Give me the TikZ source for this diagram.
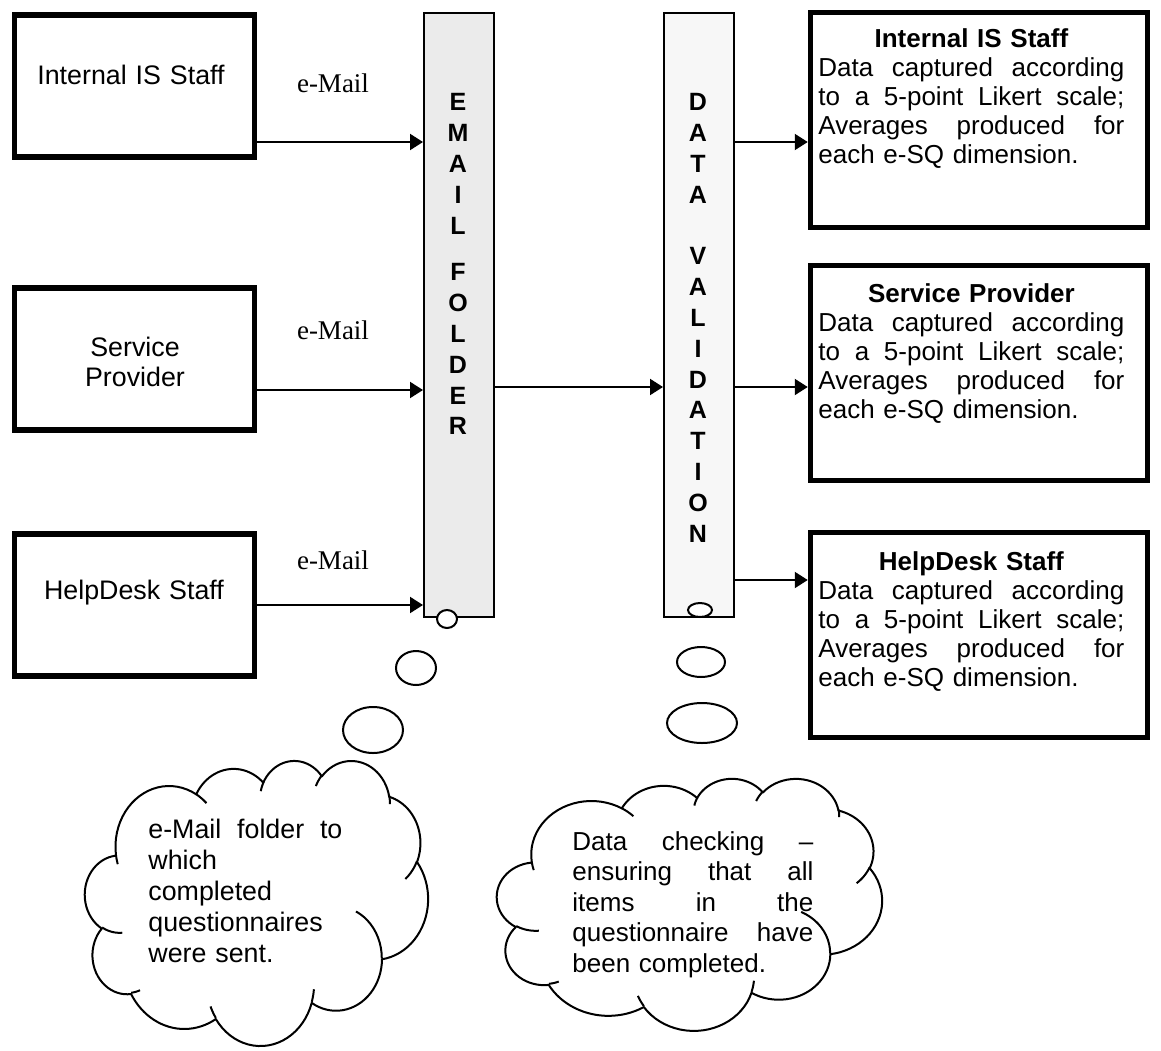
\documentclass[tikz,border=0pt]{standalone}
\usepackage{fontspec}
\setmainfont{Liberation Sans}
\newfontfamily\arialf{Liberation Sans}
\newfontfamily\timesf{Liberation Serif}
\usetikzlibrary{arrows.meta}

% ---------------------------------------------------------------
% Cloud outline in a 432 x 432 unit box (y downwards).
% Each puff is an elliptical arc given by its radii and by
% visual start / sweep angles; it is converted to parametric
% angles and appended to \cloudpath as a plot.
% ---------------------------------------------------------------
\newcommand\cloudstart[2]{\xdef\cloudCX{#1}\xdef\cloudCY{#2}\xdef\cloudpath{(#1,#2)}}
\newcommand\cloudcalc[4]{%
  \pgfmathsetmacro\cloudTA{atan2((#1)*sin(#3),(#2)*cos(#3))}%
  \pgfmathsetmacro\cloudTB{atan2((#1)*sin((#3)+(#4)),(#2)*cos((#3)+(#4)))}%
  \pgfmathsetmacro\cloudTB{\cloudTB<\cloudTA ? \cloudTB+360 : \cloudTB}%
  \pgfmathsetmacro\cloudOX{\cloudCX-(#1)*cos(\cloudTA)}%
  \pgfmathsetmacro\cloudOY{\cloudCY-(#2)*sin(\cloudTA)}%
  \pgfmathsetmacro\cloudNX{\cloudOX+(#1)*cos(\cloudTB)}%
  \pgfmathsetmacro\cloudNY{\cloudOY+(#2)*sin(\cloudTB)}%
}
\newcommand\cloudarc[4]{\cloudcalc{#1}{#2}{#3}{#4}%
  \xdef\cloudpath{\unexpanded\expandafter{\cloudpath} -- plot[domain=\cloudTA:\cloudTB,samples=25]
    ({\cloudOX+#1*cos(\noexpand\x)},{\cloudOY+#2*sin(\noexpand\x)})}%
  \xdef\cloudCX{\cloudNX}\xdef\cloudCY{\cloudNY}}
\newcommand\cloudtail[6]{\xdef\cloudCX{#1}\xdef\cloudCY{#2}\cloudcalc{#3}{#4}{#5}{#6}%
  \xdef\cloudtails{\unexpanded\expandafter{\cloudtails} (#1,#2) -- plot[domain=\cloudTA:\cloudTB,samples=12]
    ({\cloudOX+#3*cos(\noexpand\x)},{\cloudOY+#4*sin(\noexpand\x)})}}

\cloudstart{39.00}{143.70}
\cloudarc{67.53}{91.90}{-190.4875}{123.7805}
\cloudarc{53.33}{72.67}{-144.1024}{89.9452}
\cloudarc{43.65}{59.45}{-145.8079}{99.7230}
\cloudarc{48.57}{65.95}{-130.9861}{117.2417}
\cloudarc{53.33}{72.73}{-78.7089}{109.0269}
\cloudarc{67.75}{92.20}{-46.2673}{130.2690}
\cloudarc{57.85}{78.67}{0.6250}{114.0333}
\cloudarc{67.52}{92.15}{22.4516}{115.1726}
\cloudarc{77.20}{105.43}{66.2426}{75.7110}
\cloudarc{43.60}{59.18}{-274.9421}{146.7356}
\cloudarc{43.45}{59.45}{-246.8285}{152.5189}

\gdef\cloudtails{}
\cloudtail{46.93}{261.77}{43.45}{59.45}{86.7420}{26.4295}
\cloudtail{69.28}{348.99}{43.60}{59.18}{73.6105}{11.4475}
\cloudtail{164.78}{390.90}{67.52}{92.15}{137.6242}{14.0811}
\cloudtail{288.27}{347.51}{67.52}{92.15}{6.4533}{15.9984}
\cloudtail{341.29}{229.54}{57.85}{78.67}{-70.2924}{70.9174}
\cloudtail{417.98}{153.54}{53.33}{72.73}{30.3180}{27.7515}
\cloudtail{383.24}{54.26}{48.57}{65.95}{-13.7443}{14.8589}
\cloudtail{290.78}{39.52}{48.57}{65.95}{-149.1815}{18.1954}
\cloudtail{221.41}{47.20}{43.65}{59.45}{-163.4943}{17.6864}
\cloudtail{140.00}{51.92}{67.53}{91.90}{-66.7070}{12.3194}
\cloudtail{41.27}{157.89}{67.53}{91.90}{157.6544}{11.8582}

% body text shared by the three result boxes (justified lines)
\newcommand\likertbody{%
  \makebox[153pt][s]{Data\hfill captured\hfill according}\\
  \makebox[153pt][s]{to\hfill a\hfill 5-point\hfill Likert\hfill scale;}\\
  \makebox[153pt][s]{Averages\hfill produced\hfill for}\\
  each e-SQ dimension.}

\begin{document}
\begin{tikzpicture}[x=0.5pt, y=-0.5pt,
  lbox/.style={draw, line width=2.75pt, minimum width=120pt, minimum height=71pt, inner sep=0pt},
  rbox/.style={draw, line width=2.75pt, minimum width=168.5pt, inner sep=0pt},
  col/.style={draw, line width=1pt, minimum width=35pt, minimum height=302pt, inner sep=0pt},
  arr/.style={line width=1pt, -{Triangle[length=6.5pt,width=8pt]}},
  mail/.style={font=\timesf\fontsize{13.5}{16}\selectfont, inner sep=0pt},
  ltext/.style={font=\arialf\fontsize{13.4}{15}\selectfont, text width=110pt, align=center, inner sep=0pt},
  rtext/.style={font=\arialf\fontsize{13}{14.5}\selectfont, text width=153pt, align=left, inner sep=0pt, anchor=north west},
  letters/.style={font=\arialf\bfseries\fontsize{12.5}{15.4}\selectfont, text width=20pt, align=center, inner sep=0pt, anchor=north},
  ctext/.style={font=\arialf\fontsize{13.4}{15.5}\selectfont, align=left, inner sep=0pt, anchor=north west},
  cloudline/.style={line width=1pt, line join=round},
  bubble/.style={draw, line width=1pt, fill=white}]

\useasboundingbox (0,0) rectangle (1161,1050);
\fill[white] (0,0) rectangle (1161,1050);

% rows used by the connectors
\coordinate (rowA) at (0,142);
\coordinate (rowB) at (0,390);
\coordinate (rowM) at (0,387);
\coordinate (rowC) at (0,605);
\coordinate (rowD) at (0,580);

% respondent groups
\node[lbox] (in1) at (134.5,86) {};
\node[lbox] (sp1) at (134.5,359) {};
\node[lbox] (hd1) at (134.5,605) {};
\node[ltext] (in1t) at (131,75) {Internal IS Staff};
\node[ltext] (sp1t) at (135,362) {Service\\Provider};
\node[ltext] (hd1t) at (134,593) {HelpDesk Staff};

\node[mail] (m1) at (333,83) {e-Mail};
\node[mail] (m2) at (333,330) {e-Mail};
\node[mail] (m3) at (333,560) {e-Mail};

% processing columns
\node[col, fill=black!8] (folder) at (459,315) {};
\node[col, fill=black!3] (valid) at (699,315) {};
\node[letters] (emailw) at (458,89) {\strut E\\M\\A\\I\\L};
\node[letters] (folderw) at (458,259) {\strut F\\O\\L\\D\\E\\R};
\node[letters] (dataw) at (698,89) {\strut D\\A\\T\\A};
\node[letters] (validw) at (698,243) {\strut V\\A\\L\\I\\D\\A\\T\\I\\O\\N};

% result boxes
\node[rbox, minimum height=107.5pt] (in2) at (979,120) {};
\node[rbox, minimum height=107.5pt] (sp2) at (979,373) {};
\node[rbox, minimum height=102.5pt] (hd2) at (979,635) {};
\node[rtext] (in2t) at (818,26.7) {\strut\makebox[153pt][c]{\bfseries Internal IS Staff}\\\likertbody};
\node[rtext] (sp2t) at (818,281.7) {\strut\makebox[153pt][c]{\bfseries Service Provider}\\\likertbody};
\node[rtext] (hd2t) at (818,549.7) {\strut\makebox[153pt][c]{\bfseries HelpDesk Staff}\\\likertbody};

% connectors
\draw[arr] (in1.east |- rowA) -- (folder.west |- rowA);
\draw[arr] (sp1.east |- rowB) -- (folder.west |- rowB);
\draw[arr] (hd1.east |- rowC) -- (folder.west |- rowC);
\draw[arr] (folder.east |- rowM) -- (valid.west |- rowM);
\draw[arr] (valid.east |- rowA) -- (in2.west |- rowA);
\draw[arr] (valid.east |- rowM) -- (sp2.west |- rowM);
\draw[arr] (valid.east |- rowD) -- (hd2.west |- rowD);

% thought bubbles
\draw[bubble] (447,619) ellipse [x radius=5pt, y radius=4.5pt];
\draw[bubble] (416,668) ellipse [x radius=10pt, y radius=8.5pt];
\draw[bubble] (373,730) ellipse [x radius=15pt, y radius=11.5pt];
\draw[bubble] (700,610) ellipse [x radius=6pt, y radius=3.5pt];
\draw[bubble] (701,662) ellipse [x radius=12pt, y radius=7.5pt];
\draw[bubble] (702,723) ellipse [x radius=17.5pt, y radius=10pt];

% cloud for the e-mail folder
\begin{scope}[shift={(42.5pt,-380pt)}, x=0.39699pt, y=-0.32986pt]
  \draw[cloudline, fill=white] \cloudpath -- cycle;
  \draw[cloudline] \cloudtails;
\end{scope}
% cloud for the validation step
\begin{scope}[shift={(248.5pt,-389pt)}, x=0.44560pt, y=-0.29167pt]
  \draw[cloudline, fill=white] \cloudpath -- cycle;
  \draw[cloudline] \cloudtails;
\end{scope}

\node[ctext, text width=97pt] (c1t) at (148,816.3)
  {\strut\makebox[97pt][s]{e-Mail\hfill folder\hfill to}\\which\\completed\\questionnaires\\were sent.};
\node[ctext, text width=120.5pt, font=\arialf\fontsize{13}{15.25}\selectfont] (c2t) at (572,828.7)
  {\strut\makebox[120.5pt][s]{Data\hfill checking\hfill –}\\
   \makebox[120.5pt][s]{ensuring\hfill that\hfill all}\\
   \makebox[120.5pt][s]{items\hfill in\hfill the}\\
   \makebox[120.5pt][s]{questionnaire\hfill have}\\
   been completed.};
\end{tikzpicture}
\end{document}
